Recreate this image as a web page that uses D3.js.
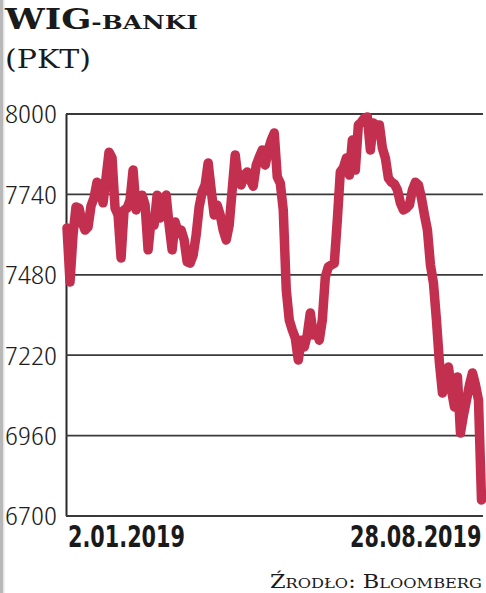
<!DOCTYPE html>
<html>
<head>
<meta charset="utf-8">
<script src="https://cdn.jsdelivr.net/npm/d3@7/dist/d3.min.js"></script>
<style>
  html, body { margin: 0; padding: 0; background: #fff; }
  svg { display: block; }
</style>
</head>
<body>
<script>
// ---- data ----
const title = "WIG";
const titleSmall = "-BANKI";
const unitLabel = "(PKT)";
const sourceLabel = "Źrodło: Bloomberg";
const yTicks = [6700, 6960, 7220, 7480, 7740, 8000];
const xLabels = ["2.01.2019", "28.08.2019"];
const values = [
  7630, 7455, 7607, 7698, 7694, 7649, 7623, 7633, 7701, 7727,
  7778, 7769, 7711, 7791, 7875, 7856, 7694, 7672, 7533, 7688,
  7694, 7720, 7817, 7688, 7720, 7736, 7704, 7559, 7656, 7639,
  7736, 7662, 7704, 7736, 7639, 7559, 7649, 7617, 7623, 7591,
  7520, 7516, 7542, 7607, 7698, 7746, 7769, 7840, 7753, 7672,
  7704, 7672, 7623, 7591, 7639, 7753, 7866, 7785, 7769, 7801,
  7811, 7785, 7765, 7833, 7859, 7882, 7833, 7882, 7914, 7937,
  7795, 7775, 7688, 7429, 7332, 7300, 7274, 7203, 7267, 7245,
  7284, 7355, 7284, 7300, 7267, 7332, 7471, 7504, 7510, 7516,
  7656, 7811, 7824, 7856, 7801, 7914, 7817, 7963, 7972, 7985,
  7989, 7882, 7969, 7963, 7963, 7888, 7856, 7791, 7778, 7772,
  7753, 7711, 7688, 7694, 7704, 7753, 7778, 7769, 7727, 7672,
  7623, 7510, 7452, 7332, 7193, 7096, 7154, 7180, 7106, 7051,
  7148, 6967, 7025, 7073, 7122, 7161, 7122, 7073, 6750
];

// ---- layout ----
const W = 486, H = 593;
const plot = { left: 66, right: 483, top: 113.5, bottom: 515.5 };
const lineColor = "#c3304f";

const svg = d3.select("body").append("svg").attr("width", W).attr("height", H);

// scan edge on the left
svg.append("rect").attr("x", 0).attr("y", 0).attr("width", 3).attr("height", H).attr("fill", "#b8b8b8");
svg.append("rect").attr("x", 3).attr("y", 0).attr("width", 1.5).attr("height", H).attr("fill", "#e4e4e4");

const x = d3.scaleLinear().domain([0, values.length - 1]).range([plot.left + 1, plot.right - 1.5]);
const y = d3.scaleLinear().domain([6700, 8000]).range([plot.bottom, plot.top]);

// y axis with gridlines
const yAxis = d3.axisLeft(y)
  .tickValues(yTicks)
  .tickFormat(d3.format("d"))
  .tickSizeInner(-(plot.right - plot.left))
  .tickSizeOuter(0)
  .tickPadding(9);

const gy = svg.append("g").attr("transform", `translate(${plot.left},0)`).call(yAxis);
gy.select(".domain").attr("stroke", "#2a2a2a").attr("stroke-width", 2);
gy.selectAll(".tick line").attr("stroke", "#3a3a3a").attr("stroke-width", 1.8);
gy.selectAll(".tick text")
  .attr("x", -(plot.left - 5))
  .attr("text-anchor", "start")
  .attr("dy", "0.36em")
  .attr("fill", "#1e1e1e")
  .style("font-family", "'Open Sans', 'DejaVu Sans Condensed', sans-serif")
  .style("font-stretch", "condensed")
  .style("font-weight", "300")
  .style("font-size", "26px")
  .attr("textLength", 52)
  .attr("lengthAdjust", "spacingAndGlyphs");

// line
const line = d3.line()
  .x((d, i) => x(i))
  .y(d => y(d))
  .curve(d3.curveLinear);

svg.append("path")
  .datum(values)
  .attr("d", line)
  .attr("fill", "none")
  .attr("stroke", lineColor)
  .attr("stroke-width", 9.5)
  .attr("stroke-linejoin", "round")
  .attr("stroke-linecap", "round");

// x labels (horizontally condensed via transform)
const xFont = "'DejaVu Sans Condensed', sans-serif";
const sx = 0.77;
const xLabelData = [
  { text: xLabels[0], pos: x(0) + 1, anchor: "start" },
  { text: xLabels[1], pos: x(values.length - 1), anchor: "end" }
];
svg.selectAll("text.xlab")
  .data(xLabelData)
  .join("text")
  .attr("class", "xlab")
  .attr("transform", d => `translate(${d.pos},547) scale(${sx},1)`)
  .attr("text-anchor", d => d.anchor)
  .attr("fill", "#1a1a1a")
  .style("font-family", xFont)
  .style("font-weight", "bold")
  .style("font-size", "30px")
  .text(d => d.text);

// title
const t = svg.append("text")
  .attr("x", 5).attr("y", 29)
  .attr("fill", "#1a1a1a")
  .style("font-family", "'DejaVu Serif', serif")
  .style("font-weight", "bold")
  .attr("textLength", 193)
  .attr("lengthAdjust", "spacingAndGlyphs");
t.append("tspan").style("font-size", "27px").text(title);
t.append("tspan").style("font-size", "19px").text(titleSmall);

svg.append("text")
  .attr("x", 5).attr("y", 68)
  .attr("fill", "#1a1a1a")
  .style("font-family", "'DejaVu Serif', serif")
  .style("font-size", "26px")
  .attr("textLength", 86)
  .attr("lengthAdjust", "spacingAndGlyphs")
  .text(unitLabel);

// source
svg.append("text")
  .attr("x", 482).attr("y", 588)
  .attr("text-anchor", "end")
  .attr("fill", "#1a1a1a")
  .style("font-family", "'DejaVu Serif', serif")
  .style("font-size", "18px")
  .style("font-variant", "small-caps")
  .attr("textLength", 212)
  .attr("lengthAdjust", "spacingAndGlyphs")
  .text(sourceLabel);
</script>
</body>
</html>
